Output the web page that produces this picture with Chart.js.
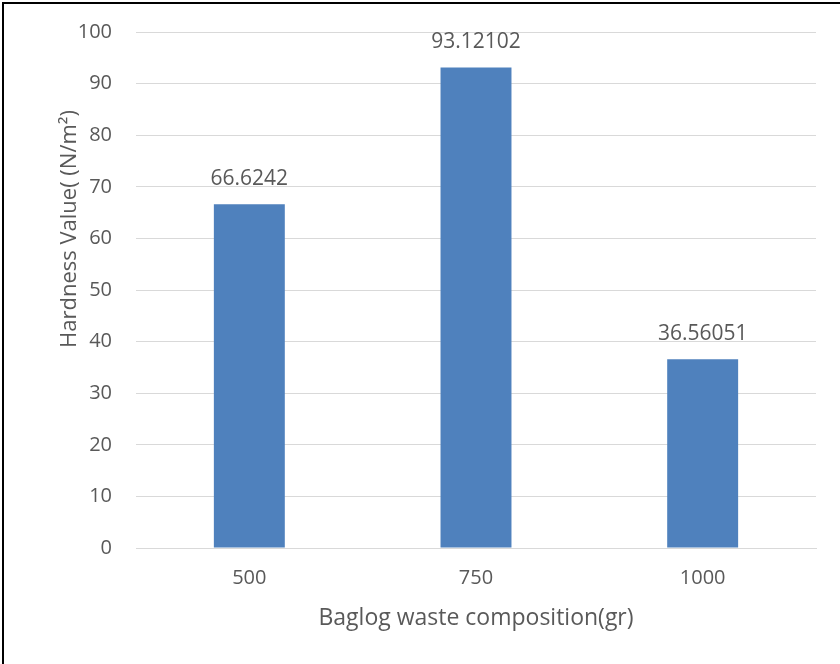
<!DOCTYPE html>
<html>
<head>
<meta charset="utf-8">
<script src="https://cdn.jsdelivr.net/npm/chart.js@4.4.1/dist/chart.umd.min.js"></script>
<style>
  html, body { margin: 0; padding: 0; background: #ffffff; }
  #wrap { position: relative; width: 840px; height: 664px; }
  #frame { position: absolute; left: 2px; top: 2px; right: 0; bottom: 0;
           border-top: 2px solid #000; border-left: 2px solid #000; pointer-events: none; }
  canvas { display: block; }
</style>
</head>
<body>
<div id="wrap">
  <canvas id="chart" width="840" height="664"></canvas>
  <div id="frame"></div>
</div>
<script>
// Hardness of the product for each baglog waste composition
const categories = ['500', '750', '1000'];
const hardnessValues = [66.6242, 93.12102, 36.56051];
const valueLabels = ['66.6242', '93.12102', '36.56051'];
const yTicks = [0, 10, 20, 30, 40, 50, 60, 70, 80, 90, 100];
const yTitle = 'Hardness Value( (N/m²)';
const xTitle = 'Baglog waste composition(gr)';

const FONT = "'Open Sans', 'Liberation Sans', sans-serif";
const TEXT = '#595959';

// Writes each bar's value just above it, plus the rotated value-axis title
const labelPlugin = {
  id: 'valueLabels',
  afterDatasetsDraw(chart) {
    const ctx = chart.ctx;
    const meta = chart.getDatasetMeta(0);
    ctx.save();
    ctx.font = '21px ' + FONT;
    ctx.fillStyle = TEXT;
    ctx.textAlign = 'center';
    ctx.textBaseline = 'alphabetic';
    meta.data.forEach((bar, i) => {
      ctx.fillText(valueLabels[i], bar.x, bar.y - 19);
    });
    ctx.restore();
  },
  afterDraw(chart) {
    const ctx = chart.ctx;
    ctx.save();
    ctx.font = '22px ' + FONT;
    ctx.fillStyle = TEXT;
    ctx.textAlign = 'center';
    ctx.textBaseline = 'middle';
    ctx.translate(70, 229);
    ctx.rotate(-Math.PI / 2);
    ctx.fillText(yTitle, 0, 0);
    ctx.restore();
  }
};

new Chart(document.getElementById('chart'), {
  type: 'bar',
  data: {
    labels: categories,
    datasets: [{
      data: hardnessValues,
      backgroundColor: '#4F81BD',
      borderWidth: 0,
      categoryPercentage: 1,
      barPercentage: 0.313
    }]
  },
  options: {
    responsive: false,
    animation: false,
    layout: { padding: { left: 0, right: 24, top: 32, bottom: 0 } },
    plugins: { legend: { display: false }, tooltip: { enabled: false } },
    scales: {
      x: {
        grid: { display: false, drawTicks: false },
        border: { display: true, color: '#D9D9D9', width: 1 },
        ticks: { color: TEXT, font: { family: FONT, size: 20 }, padding: 18 },
        title: {
          display: true,
          text: xTitle,
          color: TEXT,
          font: { family: FONT, size: 23 },
          padding: { top: 0, bottom: 32 }
        },
        afterFit(scale) { scale.height = 116; scale.paddingLeft = 0; scale.paddingRight = 0; }
      },
      y: {
        min: 0,
        max: 100,
        afterBuildTicks(scale) { scale.ticks = yTicks.map(v => ({ value: v })); },
        grid: { color: '#D9D9D9', lineWidth: 1, drawTicks: false },
        border: { display: false },
        ticks: { color: TEXT, font: { family: FONT, size: 20 }, padding: 24 },
        afterFit(scale) { scale.width = 136; scale.paddingTop = 0; scale.paddingBottom = 0; }
      }
    }
  },
  plugins: [labelPlugin]
});
</script>
</body>
</html>
